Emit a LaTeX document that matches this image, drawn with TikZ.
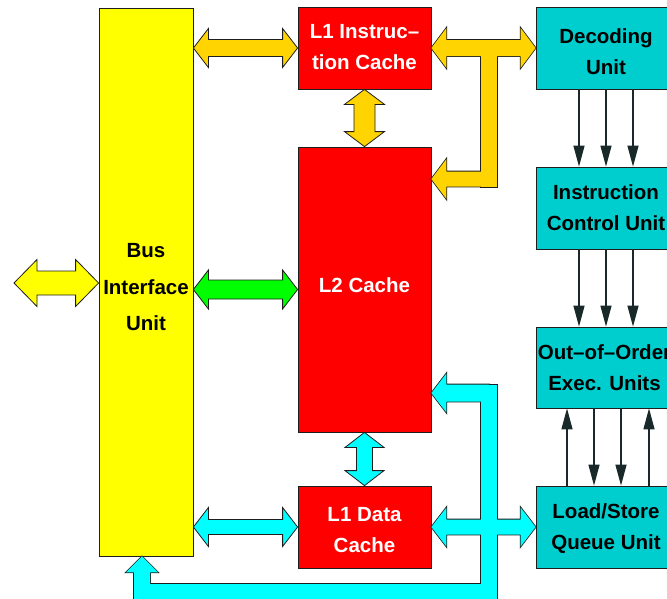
\documentclass[tikz,border=0pt]{standalone}
\usepackage{fontspec}
\setmainfont{Liberation Sans}
\usetikzlibrary{calc,arrows.meta}
\definecolor{redc}{RGB}{255,0,0}
\definecolor{yelc}{RGB}{255,255,0}
\definecolor{goldc}{RGB}{255,212,0}
\definecolor{greenc}{RGB}{0,255,0}
\definecolor{cyanc}{RGB}{0,255,255}
\definecolor{boxc}{RGB}{0,206,206}
\definecolor{outl}{RGB}{30,30,30}
\definecolor{linec}{RGB}{25,40,40}
% point in the arrow's own frame: #1 along, #2 across
\newcommand\lp[2]{({\x1+(#1)*\n2-(#2)*\n3},{\y1+(#1)*\n3+(#2)*\n2})}
% double-headed fat arrow: [opts]{from}{to}{shaft half}{head half}{head length}
\newcommand\fatD[6][]{\path[#1] let \p1=(#2), \p2=(#3), \n1={veclen(\x2-\x1,\y2-\y1)}, \n2={(\x2-\x1)/\n1}, \n3={(\y2-\y1)/\n1} in
 \lp{0}{0} -- \lp{#6}{#5} -- \lp{#6}{#4} -- \lp{\n1-#6}{#4} -- \lp{\n1-#6}{#5} -- \lp{\n1}{0} -- \lp{\n1-#6}{-#5} -- \lp{\n1-#6}{-#4} -- \lp{#6}{-#4} -- \lp{#6}{-#5} -- cycle;}
% single-headed fat arrow, head at the end
\newcommand\fatS[6][]{\path[#1] let \p1=(#2), \p2=(#3), \n1={veclen(\x2-\x1,\y2-\y1)}, \n2={(\x2-\x1)/\n1}, \n3={(\y2-\y1)/\n1} in
 \lp{0}{#4} -- \lp{\n1-#6}{#4} -- \lp{\n1-#6}{#5} -- \lp{\n1}{0} -- \lp{\n1-#6}{-#5} -- \lp{\n1-#6}{-#4} -- \lp{0}{-#4} -- cycle;}
\tikzset{
 box/.style={draw=outl, line width=0.8pt, minimum width=133pt, minimum height=82pt, inner sep=0pt},
 redbox/.style={box, fill=redc},
 cybox/.style={box, fill=boxc, minimum width=140pt},
 txt/.style={align=center, inner sep=0pt, font=\bfseries\fontsize{20.5}{31}\selectfont},
 wtxt/.style={txt, text=white},
 fat/.style={draw=outl, line width=0.8pt, line join=miter, fill=#1},
 ustroke/.style={draw=outl, line width=1.6pt, line join=miter},
 flow/.style={draw=linec, line width=1.3pt, -{Triangle[length=21pt,width=11pt]}}
}
\newcommand\goldT[1]{%
 \fatD[#1]{l1i.east}{dec.west}{8}{20}{15}
 \path[#1] (481,48) rectangle (497,187);
 \fatS[#1]{gj}{gl}{7.5}{20}{15}}
\newcommand\cyanNet[1]{%
 \fatD[#1]{l1d.east}{lsq.west}{7.5}{19.5}{15}
 \path[#1] (481,384.5) rectangle (497,615);
 \fatS[#1]{cj}{cl}{8.5}{19.5}{15}
 \path[#1] (134,584) rectangle (497,615);
 \fatS[#1]{cb}{cbt}{8}{16}{16}}
\begin{document}
\begin{tikzpicture}[x=1pt,y=-1pt]
\useasboundingbox (0,0) rectangle (667,598);
\clip (0,0) rectangle (667,598);
% boxes
\node[box, fill=yelc, minimum width=94pt, minimum height=548pt,
  label={[txt, font=\bfseries\fontsize{20.5}{36.5}\selectfont, yshift=-5.5pt]center:{Bus\\Interface\\Unit}}] (biu) at (146,282) {};
\node[redbox, label={[wtxt, yshift=1pt]center:{L1 Instruc–\\tion Cache}}] (l1i) at (364.5,48) {};
\node[redbox, minimum height=285pt, label={[wtxt, yshift=4pt]center:{L2 Cache}}] (l2) at (364.5,289.5) {};
\node[redbox, label={[wtxt, yshift=-3pt]center:{L1 Data\\Cache}}] (l1d) at (364.5,527) {};
\node[cybox, label={[txt, yshift=-3.5pt]center:{Decoding\\Unit}}] (dec) at (606,48) {};
\node[cybox, label={[txt]center:{Instruction\\Control Unit}}] (icu) at (606,208) {};
\node[cybox, minimum height=81pt, label={[txt, xshift=-1.5pt]center:{Out–of–Order\\Exec. Units}}] (ooo) at (606,367.5) {};
\node[cybox, label={[txt, yshift=-2pt]center:{Load/Store\\Queue Unit}}] (lsq) at (606,527) {};
% named points for free ends and junctions
\coordinate (ext) at (14,283);
\coordinate (gj) at (489,179);
\coordinate (gl) at (l2.east |- gj);
\coordinate (cj) at (489,393);
\coordinate (cl) at (l2.east |- cj);
\coordinate (cb) at (142,592);
\coordinate (cbt) at (biu.south -| cb);
% simple fat arrows
\fatD[fat=yelc]{ext}{ext -| biu.west}{12}{23.5}{23}
\fatD[fat=goldc]{biu.east |- l1i.west}{l1i.west}{8.5}{19.5}{15}
\fatD[fat=goldc]{l1i.south}{l2.north}{10.5}{20}{15}
\fatD[fat=greenc]{biu.east |- l2.west}{l2.west}{9.5}{19.5}{15}
\fatD[fat=cyanc]{l2.south}{l1d.north}{8}{19.5}{15}
\fatD[fat=cyanc]{biu.east |- l1d.west}{l1d.west}{7.5}{19.5}{15}
% composite fat arrows
\goldT{ustroke}
\goldT{fill=goldc}
\cyanNet{ustroke}
\cyanNet{fill=cyanc}
% thin control arrows
\foreach \dx in {-27,0,27}{
 \draw[flow] ([xshift=\dx]dec.south) -- ([xshift=\dx]icu.north);
 \draw[flow] ([xshift=\dx]icu.south) -- ([xshift=\dx]ooo.north);
}
\foreach \dx in {-39,43}
 \draw[flow] ([xshift=\dx]lsq.north) -- ([xshift=\dx]ooo.south);
\foreach \dx in {-12,15}
 \draw[flow] ([xshift=\dx]ooo.south) -- ([xshift=\dx]lsq.north);
\end{tikzpicture}
\end{document}
